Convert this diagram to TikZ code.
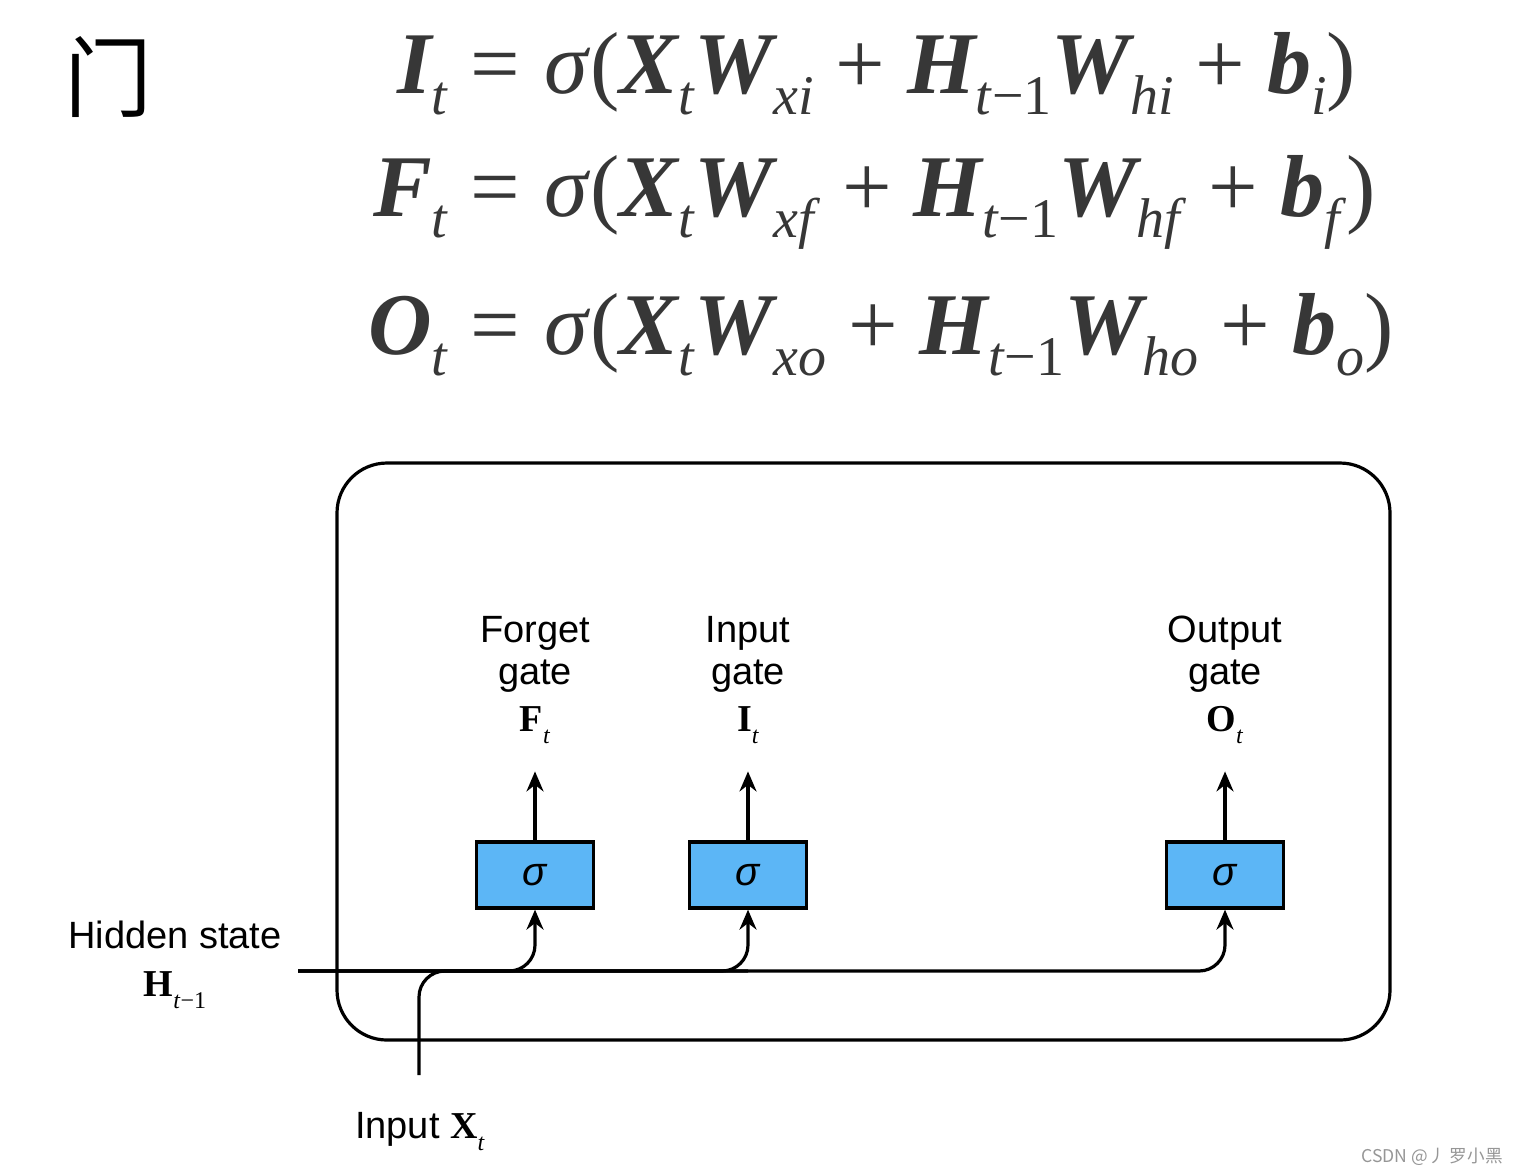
\documentclass[tikz,border=0pt]{standalone}
\usepackage{fontspec}
\setsansfont{Liberation Sans}
\newfontfamily\eqfont{Liberation Serif}
\newfontfamily\cjk{Noto Sans CJK SC}
\usetikzlibrary{arrows.meta,positioning}
\definecolor{gateblue}{RGB}{92,182,246}
\definecolor{eqgray}{RGB}{55,55,55}
\definecolor{markgray}{RGB}{150,150,150}

% bold italic letter, big subscript (equations)
\newcommand{\vb}[1]{{\bfseries\itshape #1}}
\newcommand{\eqsub}[1]{\raisebox{-10.5pt}{\fontsize{28}{28}\selectfont #1}}
% bold upright letter, small subscript (diagram labels)
\newcommand{\lblvec}[2]{{\eqfont\bfseries #1}\raisebox{-6pt}{\eqfont\fontsize{12}{12}\selectfont #2}}

\tikzset{
  gate/.style={draw=black, line width=1.6pt, fill=gateblue, minimum width=58.5pt,
    minimum height=33pt, inner sep=0pt, font=\sffamily\itshape\fontsize{20}{20}\selectfont},
  gatelabel/.style={align=center, inner sep=0pt, font=\sffamily\fontsize{19}{21}\selectfont},
  flow/.style={line width=1.6pt, rounded corners=13pt},
  tip/.style={-{Stealth[length=10pt,width=8.5pt]}},
  eq/.style={anchor=base west, inner sep=0pt, text=eqgray,
    font=\eqfont\fontsize{44}{44}\selectfont},
}

\begin{document}
\begin{tikzpicture}[x=0.5pt, y=-0.5pt]
\useasboundingbox (0,0) rectangle (1518,1175);

% title and gate equations
\node[font=\cjk\fontsize{44}{44}\selectfont] (title) at (108,77) {门};
\node[eq] (eqi) at (470,93)
  {\llap{\vb{I}\eqsub{\textit{t}}\hspace{11pt}}=\hspace{12pt}\textit{σ}(\vb{X}\eqsub{\textit{t}}\vb{W}\eqsub{\textit{xi}} + \vb{H}\eqsub{\textit{t}−1}\vb{W}\eqsub{\textit{hi}} + \vb{b}\eqsub{\textit{i}})};
\node[eq] (eqf) at (470,216)
  {\llap{\vb{F}\eqsub{\textit{t}}\hspace{11pt}}=\hspace{12pt}\textit{σ}(\vb{X}\eqsub{\textit{t}}\vb{W}\eqsub{\textit{xf}} + \vb{H}\eqsub{\textit{t}−1}\vb{W}\eqsub{\textit{hf}} + \vb{b}\eqsub{\textit{f}})};
\node[eq] (eqo) at (470,354)
  {\llap{\vb{O}\eqsub{\textit{t}}\hspace{11pt}}=\hspace{12pt}\textit{σ}(\vb{X}\eqsub{\textit{t}}\vb{W}\eqsub{\textit{xo}} + \vb{H}\eqsub{\textit{t}−1}\vb{W}\eqsub{\textit{ho}} + \vb{b}\eqsub{\textit{o}})};

% cell
\node[draw, line width=1.6pt, rounded corners=25pt, minimum width=526.5pt,
  minimum height=288.5pt, inner sep=0pt] (cell) at (863.5,751.5) {};

% gates
\node[gate] (fgate) at (535,875) {σ};
\node[gate] (igate) at (748,875) {σ};
\node[gate] (ogate) at (1225,875) {σ};

\node[gatelabel, above=48pt of fgate] (flabel) {Forget\\gate\\[2.5pt]\lblvec{F}{\textit{t}}};
\node[gatelabel, above=48pt of igate] (ilabel) {Input\\gate\\[2.5pt]\lblvec{I}{\textit{t}}};
\node[gatelabel, above=48pt of ogate] (olabel) {Output\\gate\\[2.5pt]\lblvec{O}{\textit{t}}};

\draw[flow, tip, shorten >=13.5pt] (fgate) -- (flabel);
\draw[flow, tip, shorten >=13.5pt] (igate) -- (ilabel);
\draw[flow, tip, shorten >=13.5pt] (ogate) -- (olabel);

% hidden state and input
\node[gatelabel, anchor=north] (hlabel) at (175,921) {Hidden state\\[3pt]\lblvec{H}{\textit{t}−1}};
\node[gatelabel, anchor=base] (xlabel) at (420,1138) {Input \lblvec{X}{\textit{t}}};
\coordinate (hstart) at (298,971);
\coordinate (xstart) at (419,1075);

\draw[flow, tip] (hstart) -| (fgate);
\draw[flow, tip] (hstart) -| (igate);
\draw[flow, tip] (hstart) -| (ogate);
\draw[flow] (xstart) |- (igate |- hstart);

\node[font=\cjk\fontsize{8.8}{8.8}\selectfont, text=markgray, anchor=east, inner sep=0pt]
  (mark) at (1503,1157) {CSDN @丿 罗小黑};
\end{tikzpicture}
\end{document}
